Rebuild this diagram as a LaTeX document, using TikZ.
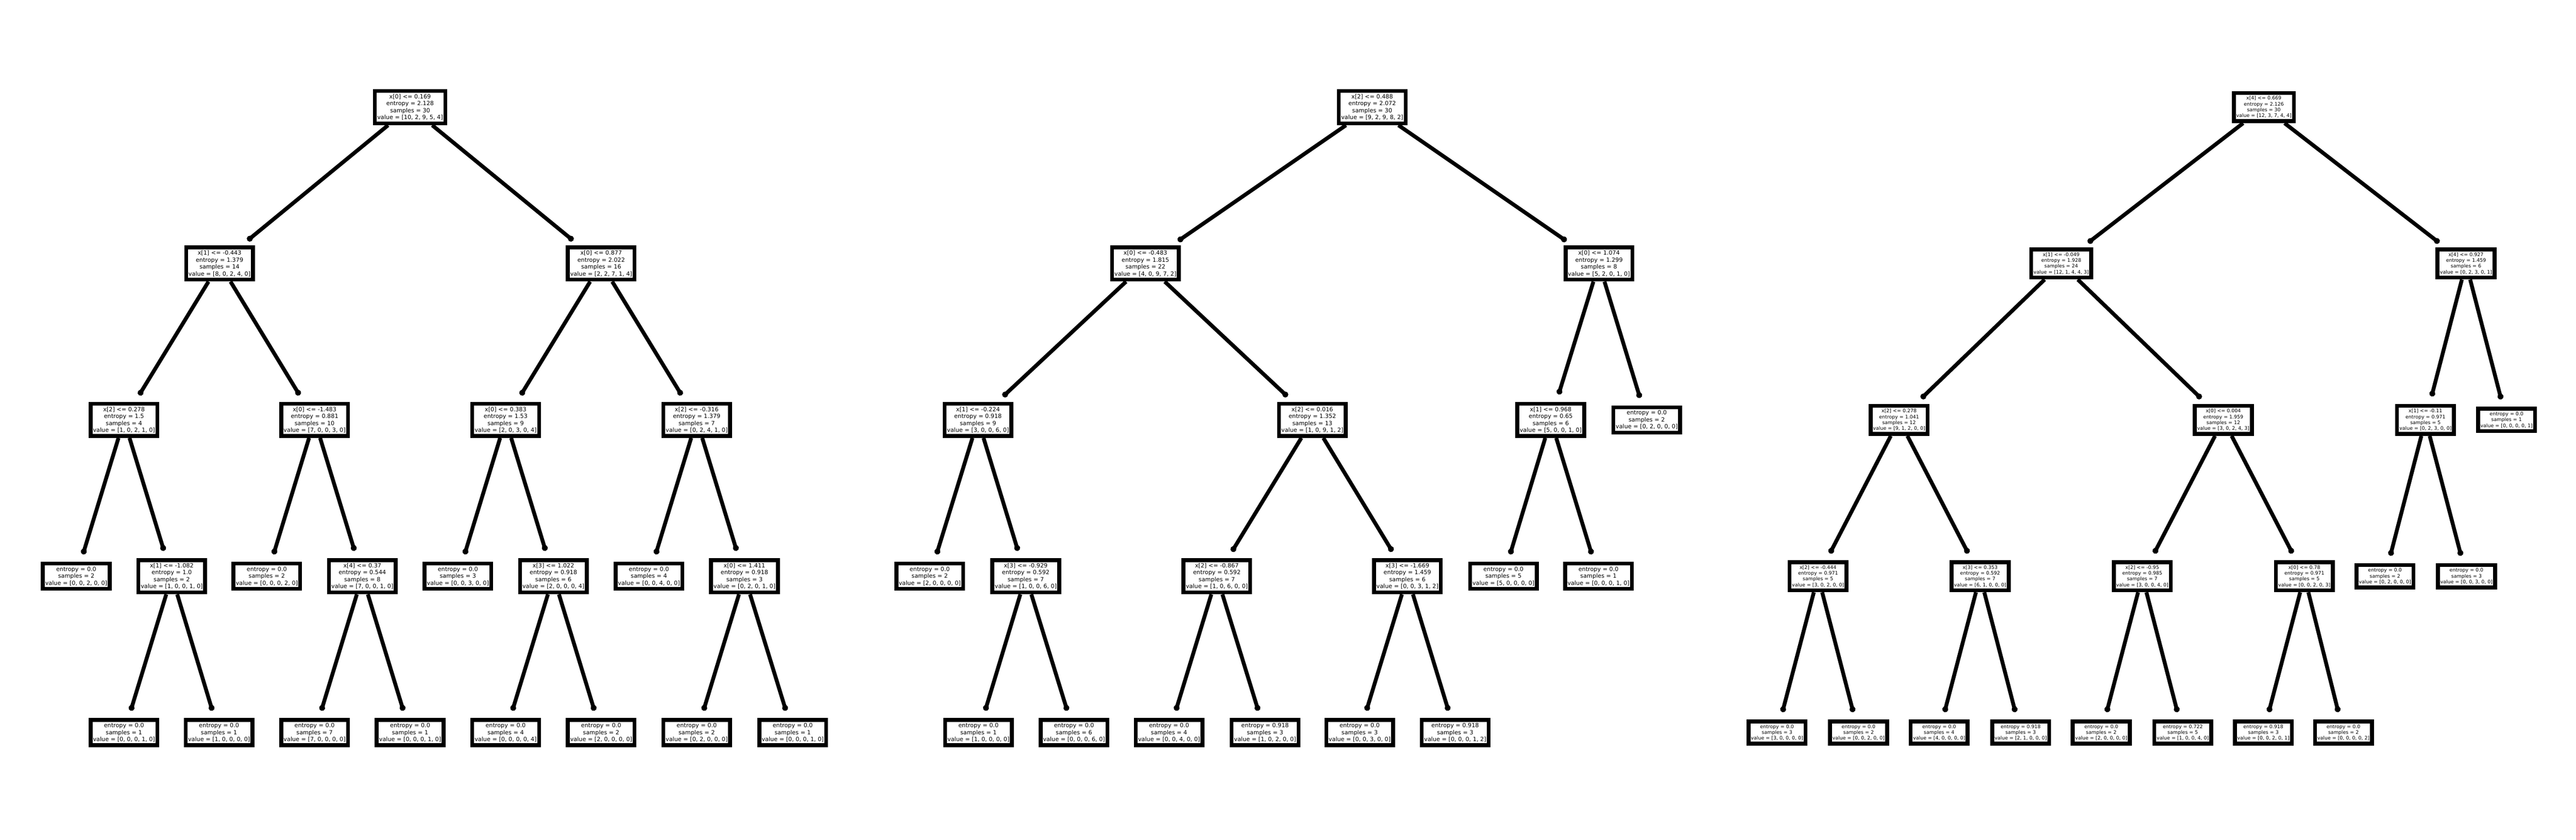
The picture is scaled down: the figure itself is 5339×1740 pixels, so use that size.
\documentclass[tikz,border=0pt]{standalone}
\usepackage{fontspec}
\setmainfont{DejaVu Sans}
\usetikzlibrary{arrows.meta}
\tikzset{
    split/.style={draw, fill=white, line width=0.08cm, align=center,
        inner xsep=0.05cm, inner ysep=0.065cm, font=\fontsize{3.41}{4.1}\selectfont},
    splitsm/.style={split, font=\fontsize{2.87}{3.45}\selectfont},
    treeedge/.style={-{Circle[length=0.12cm]}, line width=0.08cm, shorten >=0.16cm}
}

\begin{document}
\begin{tikzpicture}[x=0.01cm, y=-0.01cm]
    \useasboundingbox (0,0) rectangle (5339,1740);
    % First tree
    \node[split] (a) at (850,222) {x[0] <= 0.169\\entropy = 2.128\\samples = 30\\value = [10, 2, 9, 5, 4]};
    \node[split] (a1) at (455,546) {x[1] <= -0.443\\entropy = 1.379\\samples = 14\\value = [8, 0, 2, 4, 0]};
    \node[split] (a2) at (1246,546) {x[0] <= 0.877\\entropy = 2.022\\samples = 16\\value = [2, 2, 7, 1, 4]};
    \node[split] (a11) at (257,870) {x[2] <= 0.278\\entropy = 1.5\\samples = 4\\value = [1, 0, 2, 1, 0]};
    \node[split] (a12) at (652,870) {x[0] <= -1.483\\entropy = 0.881\\samples = 10\\value = [7, 0, 0, 3, 0]};
    \node[split] (a21) at (1048,870) {x[0] <= 0.383\\entropy = 1.53\\samples = 9\\value = [2, 0, 3, 0, 4]};
    \node[split] (a22) at (1444,870) {x[2] <= -0.316\\entropy = 1.379\\samples = 7\\value = [0, 2, 4, 1, 0]};
    \node[split] (a111) at (158,1194) {entropy = 0.0\\samples = 2\\value = [0, 0, 2, 0, 0]};
    \node[split] (a112) at (356,1194) {x[1] <= -1.082\\entropy = 1.0\\samples = 2\\value = [1, 0, 0, 1, 0]};
    \node[split] (a121) at (553,1194) {entropy = 0.0\\samples = 2\\value = [0, 0, 0, 2, 0]};
    \node[split] (a122) at (751,1194) {x[4] <= 0.37\\entropy = 0.544\\samples = 8\\value = [7, 0, 0, 1, 0]};
    \node[split] (a211) at (949,1194) {entropy = 0.0\\samples = 3\\value = [0, 0, 3, 0, 0]};
    \node[split] (a212) at (1147,1194) {x[3] <= 1.022\\entropy = 0.918\\samples = 6\\value = [2, 0, 0, 0, 4]};
    \node[split] (a221) at (1345,1194) {entropy = 0.0\\samples = 4\\value = [0, 0, 4, 0, 0]};
    \node[split] (a222) at (1543,1194) {x[0] <= 1.411\\entropy = 0.918\\samples = 3\\value = [0, 2, 0, 1, 0]};
    \node[split] (a1121) at (257,1518) {entropy = 0.0\\samples = 1\\value = [0, 0, 0, 1, 0]};
    \node[split] (a1122) at (454,1518) {entropy = 0.0\\samples = 1\\value = [1, 0, 0, 0, 0]};
    \node[split] (a1221) at (652,1518) {entropy = 0.0\\samples = 7\\value = [7, 0, 0, 0, 0]};
    \node[split] (a1222) at (850,1518) {entropy = 0.0\\samples = 1\\value = [0, 0, 0, 1, 0]};
    \node[split] (a2121) at (1048,1518) {entropy = 0.0\\samples = 4\\value = [0, 0, 0, 0, 4]};
    \node[split] (a2122) at (1246,1518) {entropy = 0.0\\samples = 2\\value = [2, 0, 0, 0, 0]};
    \node[split] (a2221) at (1444,1518) {entropy = 0.0\\samples = 2\\value = [0, 2, 0, 0, 0]};
    \node[split] (a2222) at (1643,1518) {entropy = 0.0\\samples = 1\\value = [0, 0, 0, 1, 0]};
    % Second tree
    \node[split] (b) at (2844,222) {x[2] <= 0.488\\entropy = 2.072\\samples = 30\\value = [9, 2, 9, 8, 2]};
    \node[split] (b1) at (2374,546) {x[0] <= -0.483\\entropy = 1.815\\samples = 22\\value = [4, 0, 9, 7, 2]};
    \node[split] (b2) at (3314,546) {x[0] <= 1.074\\entropy = 1.299\\samples = 8\\value = [5, 2, 0, 1, 0]};
    \node[split] (b11) at (2027,870) {x[1] <= -0.224\\entropy = 0.918\\samples = 9\\value = [3, 0, 0, 6, 0]};
    \node[split] (b12) at (2720,870) {x[2] <= 0.016\\entropy = 1.352\\samples = 13\\value = [1, 0, 9, 1, 2]};
    \node[split] (b21) at (3214,870) {x[1] <= 0.968\\entropy = 0.65\\samples = 6\\value = [5, 0, 0, 1, 0]};
    \node[split] (b22) at (3413,870) {entropy = 0.0\\samples = 2\\value = [0, 2, 0, 0, 0]};
    \node[split] (b111) at (1927,1194) {entropy = 0.0\\samples = 2\\value = [2, 0, 0, 0, 0]};
    \node[split] (b112) at (2126,1194) {x[3] <= -0.929\\entropy = 0.592\\samples = 7\\value = [1, 0, 0, 6, 0]};
    \node[split] (b121) at (2522,1194) {x[2] <= -0.867\\entropy = 0.592\\samples = 7\\value = [1, 0, 6, 0, 0]};
    \node[split] (b122) at (2917,1194) {x[3] <= -1.669\\entropy = 1.459\\samples = 6\\value = [0, 0, 3, 1, 2]};
    \node[split] (b211) at (3116,1194) {entropy = 0.0\\samples = 5\\value = [5, 0, 0, 0, 0]};
    \node[split] (b212) at (3313,1194) {entropy = 0.0\\samples = 1\\value = [0, 0, 0, 1, 0]};
    \node[split] (b1121) at (2028,1518) {entropy = 0.0\\samples = 1\\value = [1, 0, 0, 0, 0]};
    \node[split] (b1122) at (2226,1518) {entropy = 0.0\\samples = 6\\value = [0, 0, 0, 6, 0]};
    \node[split] (b1211) at (2423,1518) {entropy = 0.0\\samples = 4\\value = [0, 0, 4, 0, 0]};
    \node[split] (b1212) at (2622,1518) {entropy = 0.918\\samples = 3\\value = [1, 0, 2, 0, 0]};
    \node[split] (b1221) at (2818,1518) {entropy = 0.0\\samples = 3\\value = [0, 0, 3, 0, 0]};
    \node[split] (b1222) at (3016,1518) {entropy = 0.918\\samples = 3\\value = [0, 0, 0, 1, 2]};
    % Third tree
    \node[splitsm] (c) at (4692,222) {x[4] <= 0.669\\entropy = 2.126\\samples = 30\\value = [12, 3, 7, 4, 4]};
    \node[splitsm] (c1) at (4272,546) {x[1] <= -0.049\\entropy = 1.928\\samples = 24\\value = [12, 1, 4, 4, 3]};
    \node[splitsm] (c2) at (5111,546) {x[4] <= 0.927\\entropy = 1.459\\samples = 6\\value = [0, 2, 3, 0, 1]};
    \node[splitsm] (c11) at (3936,870) {x[2] <= 0.278\\entropy = 1.041\\samples = 12\\value = [9, 1, 2, 0, 0]};
    \node[splitsm] (c12) at (4608,870) {x[0] <= 0.004\\entropy = 1.959\\samples = 12\\value = [3, 0, 2, 4, 3]};
    \node[splitsm] (c21) at (5027,870) {x[1] <= -0.11\\entropy = 0.971\\samples = 5\\value = [0, 2, 3, 0, 0]};
    \node[splitsm] (c22) at (5195,870) {entropy = 0.0\\samples = 1\\value = [0, 0, 0, 0, 1]};
    \node[splitsm] (c111) at (3768,1194) {x[2] <= -0.444\\entropy = 0.971\\samples = 5\\value = [3, 0, 2, 0, 0]};
    \node[splitsm] (c112) at (4104,1194) {x[3] <= 0.353\\entropy = 0.592\\samples = 7\\value = [6, 1, 0, 0, 0]};
    \node[splitsm] (c121) at (4440,1194) {x[2] <= -0.95\\entropy = 0.985\\samples = 7\\value = [3, 0, 0, 4, 0]};
    \node[splitsm] (c122) at (4776,1194) {x[0] <= 0.78\\entropy = 0.971\\samples = 5\\value = [0, 0, 2, 0, 3]};
    \node[splitsm] (c211) at (4943,1194) {entropy = 0.0\\samples = 2\\value = [0, 2, 0, 0, 0]};
    \node[splitsm] (c212) at (5112,1194) {entropy = 0.0\\samples = 3\\value = [0, 0, 3, 0, 0]};
    \node[splitsm] (c1111) at (3683,1518) {entropy = 0.0\\samples = 3\\value = [3, 0, 0, 0, 0]};
    \node[splitsm] (c1112) at (3852,1518) {entropy = 0.0\\samples = 2\\value = [0, 0, 2, 0, 0]};
    \node[splitsm] (c1121) at (4019,1518) {entropy = 0.0\\samples = 4\\value = [4, 0, 0, 0, 0]};
    \node[splitsm] (c1122) at (4188,1518) {entropy = 0.918\\samples = 3\\value = [2, 1, 0, 0, 0]};
    \node[splitsm] (c1211) at (4355,1518) {entropy = 0.0\\samples = 2\\value = [2, 0, 0, 0, 0]};
    \node[splitsm] (c1212) at (4524,1518) {entropy = 0.722\\samples = 5\\value = [1, 0, 0, 4, 0]};
    \node[splitsm] (c1221) at (4691,1518) {entropy = 0.918\\samples = 3\\value = [0, 0, 2, 0, 1]};
    \node[splitsm] (c1222) at (4857,1518) {entropy = 0.0\\samples = 2\\value = [0, 0, 0, 0, 2]};
    % Edges
    \foreach \p/\c in {a/a1, a/a2, a1/a11, a1/a12, a2/a21, a2/a22, a11/a111, a11/a112,
        a12/a121, a12/a122, a21/a211, a21/a212, a22/a221, a22/a222, a112/a1121, a112/a1122,
        a122/a1221, a122/a1222, a212/a2121, a212/a2122, a222/a2221, a222/a2222}
        \draw[treeedge] (\p) -- (\c);
    \foreach \p/\c in {b/b1, b/b2, b1/b11, b1/b12, b2/b21, b2/b22, b11/b111, b11/b112,
        b12/b121, b12/b122, b21/b211, b21/b212, b112/b1121, b112/b1122, b121/b1211,
        b121/b1212, b122/b1221, b122/b1222}
        \draw[treeedge] (\p) -- (\c);
    \foreach \p/\c in {c/c1, c/c2, c1/c11, c1/c12, c2/c21, c2/c22, c11/c111, c11/c112,
        c12/c121, c12/c122, c21/c211, c21/c212, c111/c1111, c111/c1112, c112/c1121,
        c112/c1122, c121/c1211, c121/c1212, c122/c1221, c122/c1222}
        \draw[treeedge] (\p) -- (\c);
\end{tikzpicture}
\end{document}
